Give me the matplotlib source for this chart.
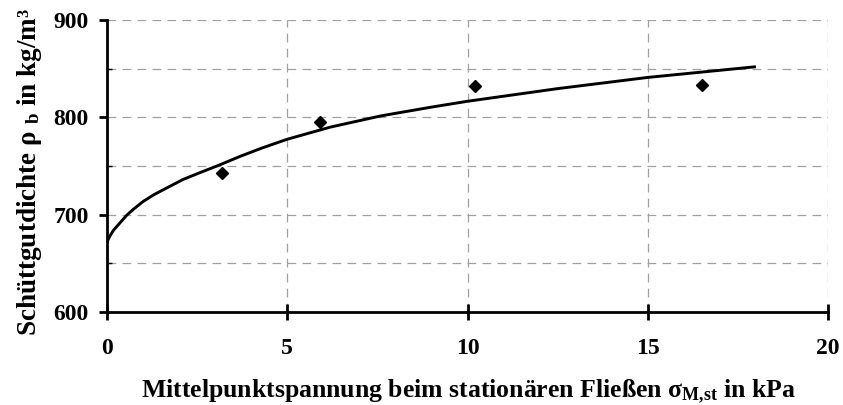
import matplotlib
matplotlib.use("Agg")
import matplotlib.pyplot as plt
from matplotlib.ticker import MultipleLocator

plt.rcParams['font.family'] = ['Liberation Serif', 'DejaVu Serif']
plt.rcParams['font.weight'] = 'bold'
plt.rcParams['mathtext.fontset'] = 'custom'
plt.rcParams['mathtext.rm'] = 'Liberation Serif:bold'
plt.rcParams['mathtext.it'] = 'Liberation Serif:bold'
plt.rcParams['mathtext.bf'] = 'Liberation Serif:bold'

# Messpunkte
sigma_mess = [3.2, 5.9, 10.2, 16.5]
rho_mess = [743, 795.5, 832, 833]

# Ausgleichskurve
sigma_kurve = [0, 0.08, 0.18, 0.37, 0.55, 0.73, 1.0, 1.3, 1.66, 2.1, 2.6, 3.05, 3.7,
               4.3, 5.0, 6.2, 7.6, 9.0, 10.0, 12.5, 15.0, 18.0]
rho_kurve = [672, 678, 684, 692, 699.5, 705.5, 713.5, 720.5, 727.5, 736, 743.5,
             750, 760, 768.5, 777.5, 790, 801.5, 810.5, 816.5, 829.5, 841, 852]

x_ticks = [0, 5, 10, 15, 20]
y_ticks = [600, 700, 800, 900]

fig = plt.figure(figsize=(8.43, 4.05), dpi=100)
ax = fig.add_axes([107/843, 1-312/405, 721/843, 292/405])

ax.plot(sigma_kurve, rho_kurve, color='black', lw=2.1, solid_capstyle='butt',
        solid_joinstyle='round', zorder=3)
ax.plot(sigma_mess, rho_mess, 'D', color='black', ms=6.5, zorder=4)

ax.set_xlim(0, 20)
ax.set_ylim(600, 900)
ax.set_xticks(x_ticks)
ax.set_yticks(y_ticks)
ax.yaxis.set_minor_locator(MultipleLocator(50))

# Gitter
for xv in [5, 10, 15, 20]:
    ax.axvline(xv, color='#a0a0a0', lw=0.9, ls=(0, (7, 5)), zorder=1)
for yv in [650, 700, 750, 800, 850, 900]:
    ax.axhline(yv, color='#a0a0a0', lw=0.9, ls=(0, (7, 5)), zorder=1)

for s in ['top', 'right']:
    ax.spines[s].set_visible(False)
for s in ['left', 'bottom']:
    ax.spines[s].set_linewidth(2.0)

ax.tick_params(axis='x', direction='inout', length=11, width=2, labelsize=17, pad=13)
ax.tick_params(axis='y', which='major', direction='out', length=6, width=2, labelsize=17, pad=7)
ax.tick_params(axis='y', which='minor', direction='in', length=3.5, width=1)

fig.text(468/843, 7/405, 'Mittelpunktspannung beim stationären Fließen σ$_{\\mathbf{M{,}st}}$ in kPa',
         ha='center', va='baseline', fontsize=18.5, fontweight='bold')
fig.text(30/843, 1-172/405, 'Schüttgutdichte ρ $_{\\mathbf{b}}$ in kg/m³',
         rotation=90, ha='center', va='center', fontsize=19.5, fontweight='bold')

fig.savefig('out.png', dpi=100)
